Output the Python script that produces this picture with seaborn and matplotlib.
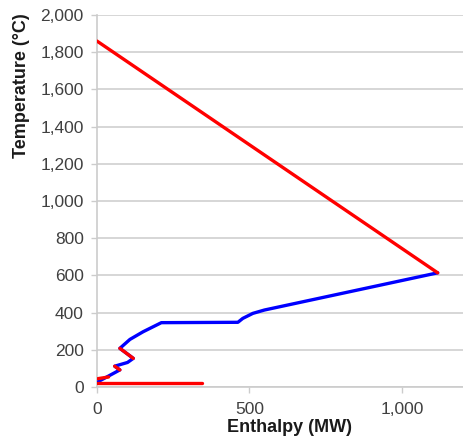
import matplotlib
matplotlib.use("Agg")
import matplotlib.pyplot as plt
import matplotlib.ticker as mticker
import seaborn as sns
import pandas as pd

# ---- data (Enthalpy MW, Temperature °C) ----
hot_top_mw = [0, 1117]
hot_top_t = [1860, 614]

cold_mw = [5, 75, 58, 100, 119, 75, 108, 151, 211, 462, 478, 511, 549, 1117]
cold_t = [30, 92, 112, 132, 154, 208, 256, 297, 346, 348, 369, 396, 414, 614]

hot_zig1_mw = [75, 58]
hot_zig1_t = [92, 112]
hot_zig2_mw = [119, 75]
hot_zig2_t = [154, 208]
hot_low_mw = [38, 3]
hot_low_t = [54, 45]
hot_base_mw = [0, 345]
hot_base_t = [23, 23]

x_ticks = [0, 500, 1000]
y_ticks = list(range(0, 2001, 200))

sns.set_style("white")
plt.rcParams['font.family'] = ['Liberation Sans', 'DejaVu Sans']

fig = plt.figure(figsize=(4.63, 4.41), dpi=100)
ax = fig.add_axes([0.2095, 0.1224, 0.7905, 0.8435])

RED = "#ff0000"
BLUE = "#0000ff"
LW = 2.4

def seg(mw, t, color, z):
    df = pd.DataFrame({"mw": mw, "t": t})
    sns.lineplot(data=df, x="mw", y="t", sort=False, estimator=None,
                 color=color, linewidth=LW, ax=ax, zorder=z)

seg(cold_mw, cold_t, BLUE, 3)
seg(hot_top_mw, hot_top_t, RED, 4)
seg(hot_zig1_mw, hot_zig1_t, RED, 4)
seg(hot_zig2_mw, hot_zig2_t, RED, 4)
seg(hot_low_mw, hot_low_t, RED, 4)
seg(hot_base_mw, hot_base_t, RED, 4)

ax.set_xlim(0, 1200)
ax.set_ylim(0, 2000)
ax.set_xticks(x_ticks)
ax.set_yticks(y_ticks)
fmt = mticker.FuncFormatter(lambda v, p: f"{int(v):,}")
ax.xaxis.set_major_formatter(fmt)
ax.yaxis.set_major_formatter(fmt)

ax.grid(axis="y", color="#d6d6d6", linewidth=1.4)
ax.grid(axis="x", visible=False)
ax.set_axisbelow(True)
for s in ["top", "right"]:
    ax.spines[s].set_visible(False)
for s in ["left", "bottom"]:
    ax.spines[s].set_color("#cccccc")
    ax.spines[s].set_linewidth(1.2)
ax.tick_params(axis="both", which="major", labelsize=12.5, labelcolor="#404040",
               color="#cccccc", length=4.5, width=1.0, direction="out", bottom=True, left=True)
ax.tick_params(axis="y", pad=5)
ax.tick_params(axis="x", pad=6)

ax.set_xlabel("Enthalpy (MW)", fontsize=13, fontweight="bold", color="#1a1a1a")
ax.xaxis.set_label_coords(0.527, -0.087)
ax.set_ylabel("Temperature (°C)", fontsize=13, fontweight="bold", color="#1a1a1a")
ax.yaxis.set_label_coords(-0.182, 0.81)

fig.savefig("out.png", dpi=100)
